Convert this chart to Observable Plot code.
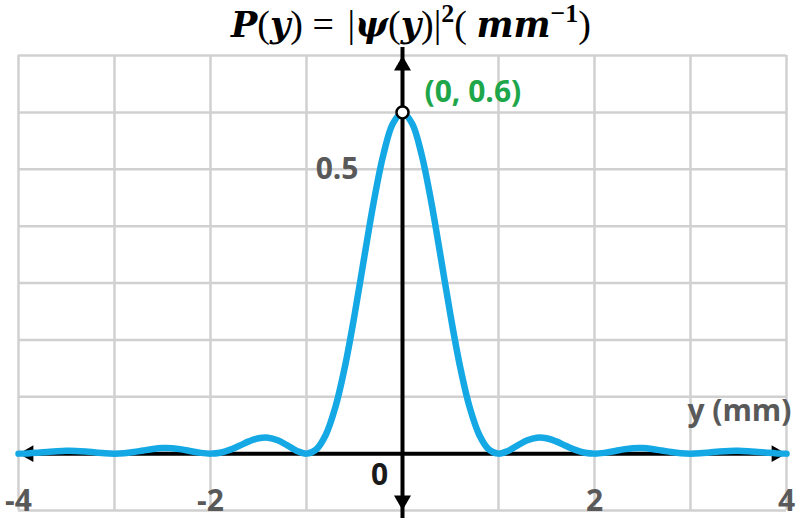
<!DOCTYPE html>
<html>
<head>
<meta charset="utf-8">
<script src="https://cdn.jsdelivr.net/npm/d3@7"></script>
<script src="https://cdn.jsdelivr.net/npm/@observablehq/plot@0.6"></script>
<style>
  html, body { margin: 0; padding: 0; background: #fff; }
  #chart { width: 800px; height: 521px; overflow: hidden; }
</style>
</head>
<body>
<div id="chart"></div>
<script>
// Data: probability density P(y) in mm^-1
const yPos = [-4.0,-3.9,-3.8,-3.7,-3.6,-3.5,-3.4,-3.3,-3.2,-3.1,-3.0,-2.9,-2.8,-2.7,-2.6,-2.5,-2.4,-2.3,-2.2,-2.1,-2.0,-1.9,-1.8,-1.7,-1.6,-1.5,-1.4,-1.3,-1.2,-1.1,-1.0,-0.9,-0.8,-0.7,-0.6,-0.5,-0.4,-0.3,-0.2,-0.1,0.0,0.1,0.2,0.3,0.4,0.5,0.6,0.7,0.8,0.9,1.0,1.1,1.2,1.3,1.4,1.5,1.6,1.7,1.8,1.9,2.0,2.1,2.2,2.3,2.4,2.5,2.6,2.7,2.8,2.9,3.0,3.1,3.2,3.3,3.4,3.5,3.6,3.7,3.8,3.9,4.0];
const density = [0.0000,0.0004,0.0015,0.0029,0.0042,0.0050,0.0048,0.0037,0.0021,0.0006,0.0000,0.0007,0.0027,0.0055,0.0081,0.0097,0.0095,0.0075,0.0043,0.0013,0.0000,0.0016,0.0065,0.0138,0.0215,0.0270,0.0281,0.0235,0.0146,0.0048,0.0000,0.0072,0.0328,0.0812,0.1527,0.2432,0.3437,0.4421,0.5251,0.5805,0.6000,0.5805,0.5251,0.4421,0.3437,0.2432,0.1527,0.0812,0.0328,0.0072,0.0000,0.0048,0.0146,0.0235,0.0281,0.0270,0.0215,0.0138,0.0065,0.0016,0.0000,0.0013,0.0043,0.0075,0.0095,0.0097,0.0081,0.0055,0.0027,0.0007,0.0000,0.0006,0.0021,0.0037,0.0048,0.0050,0.0042,0.0029,0.0015,0.0004,0.0000];
const xGrid = [-4,-3,-2,-1,0,1,2,3,4];
const yGrid = [-0.1,0,0.1,0.2,0.3,0.4,0.5,0.6,0.7];
const xTickLabels = [-4,-2,2,4];
const yTickLabels = [0.5];
const peakPoint = [{x: 0, y: 0.6, label: "(0, 0.6)"}];
const xAxisLabel = "y (mm)";

const data = yPos.map((x, i) => ({x, p: density[i]}));
const font = "'Open Sans', Lato, sans-serif";
const gray = "#595959";

const chart = Plot.plot({
  width: 800,
  height: 521,
  marginTop: 55,
  marginRight: 14,
  marginBottom: 11,
  marginLeft: 18,
  x: {domain: [-4, 4], axis: null},
  y: {domain: [-0.1, 0.7], axis: null},
  style: {fontFamily: font, background: "#fff"},
  marks: [
    Plot.ruleX(xGrid, {stroke: "#d0d0d0", strokeWidth: 2.5, y1: -0.1, y2: 0.7}),
    Plot.ruleY(yGrid, {stroke: "#d0d0d0", strokeWidth: 2.5, x1: -4, x2: 4}),
    // horizontal axis (under curve)
    Plot.ruleY([0], {x1: -4, x2: 4, stroke: "#000", strokeWidth: 4, insetLeft: 8, insetRight: 8}),
    Plot.dot([{x: -4, y: 0}], {x: "x", y: "y", symbol: "triangle", r: 6.3, rotate: -90, fill: "#000", stroke: "none", dx: 10}),
    Plot.dot([{x: 4, y: 0}], {x: "x", y: "y", symbol: "triangle", r: 6.3, rotate: 90, fill: "#000", stroke: "none", dx: -10}),
    // curve
    Plot.line(data, {x: "x", y: "p", stroke: "#14a8e5", strokeWidth: 6.5, curve: "catmull-rom"}),
    // vertical axis (over curve)
    Plot.ruleX([0], {y1: -0.1, y2: 0.7, stroke: "#000", strokeWidth: 4, insetTop: 8, insetBottom: 8}),
    Plot.dot([{x: 0, y: 0.7}], {x: "x", y: "y", symbol: "triangle", r: 6.3, rotate: 0, fill: "#000", stroke: "none", dy: 10}),
    Plot.dot([{x: 0, y: -0.1}], {x: "x", y: "y", symbol: "triangle", r: 6.3, rotate: 180, fill: "#000", stroke: "none", dy: -10}),
    // peak marker
    Plot.dot(peakPoint, {x: "x", y: "y", r: 6, fill: "#fff", stroke: "#000", strokeWidth: 2.5}),
    Plot.text(peakPoint, {x: "x", y: "y", text: "label", textAnchor: "start", dx: 22, dy: -20, fill: "#1ea64a", fontSize: 30, fontWeight: "bold"}),
    // labels
    Plot.text(yTickLabels, {x: 0, y: d => d, text: d => String(d), textAnchor: "end", dx: -44, fill: gray, fontSize: 30, fontWeight: "bold"}),
    Plot.text(["0"], {x: 0, y: 0, text: d => d, dx: -23, dy: 22, fill: "#1a1a1a", fontSize: 30, fontWeight: "bold"}),
    Plot.text(xTickLabels, {x: d => d, y: -0.1, text: d => String(d), dy: -9, fill: gray, fontSize: 30, fontWeight: "bold"}),
    Plot.text([xAxisLabel], {x: 4, y: 0, text: d => d, textAnchor: "end", dx: 5, dy: -42, fill: gray, fontSize: 30, fontWeight: "bold"})
  ]
});

document.getElementById("chart").appendChild(chart);

// Title with mixed italic math
const svg = d3.select(chart);
const title = svg.append("text")
  .attr("x", 411).attr("y", 37)
  .attr("text-anchor", "middle")
  .attr("font-size", 35)
  .attr("fill", "#000");
const varFont = "'DejaVu Serif', 'Liberation Serif', serif";
const opFont = "'Liberation Serif', 'DejaVu Serif', serif";
// [text, kind]: v = bold italic variable, o = upright operator, s = bold superscript
const parts = [
  ["P", "v"], ["(", "o"], ["y", "v"], [")", "o"], [" = ", "o"], ["|", "o"], ["ψ", "v"], ["(", "o"], ["y", "v"], [")", "o"], ["|", "o"],
  ["2", "s"], ["( ", "o"], ["mm", "v"], ["−1", "s"], [")", "o"]
];
let raised = false;
parts.forEach(([t, k]) => {
  const ts = title.append("tspan").text(t);
  if (k === "v") ts.attr("font-family", varFont).attr("font-style", "italic").attr("font-weight", "bold");
  else if (k === "o") ts.attr("font-family", opFont).attr("font-size", 38).attr("font-weight", "normal");
  else ts.attr("font-family", opFont).attr("font-weight", "bold").attr("font-size", 26);
  if (k === "s" && !raised) { ts.attr("dy", -15); raised = true; }
  else if (k !== "s" && raised) { ts.attr("dy", 15); raised = false; }
});
// widen the space around "=" a little, as in the reference
title.selectAll("tspan").filter((d, i) => i === 5).attr("dx", 4);
</script>
</body>
</html>
